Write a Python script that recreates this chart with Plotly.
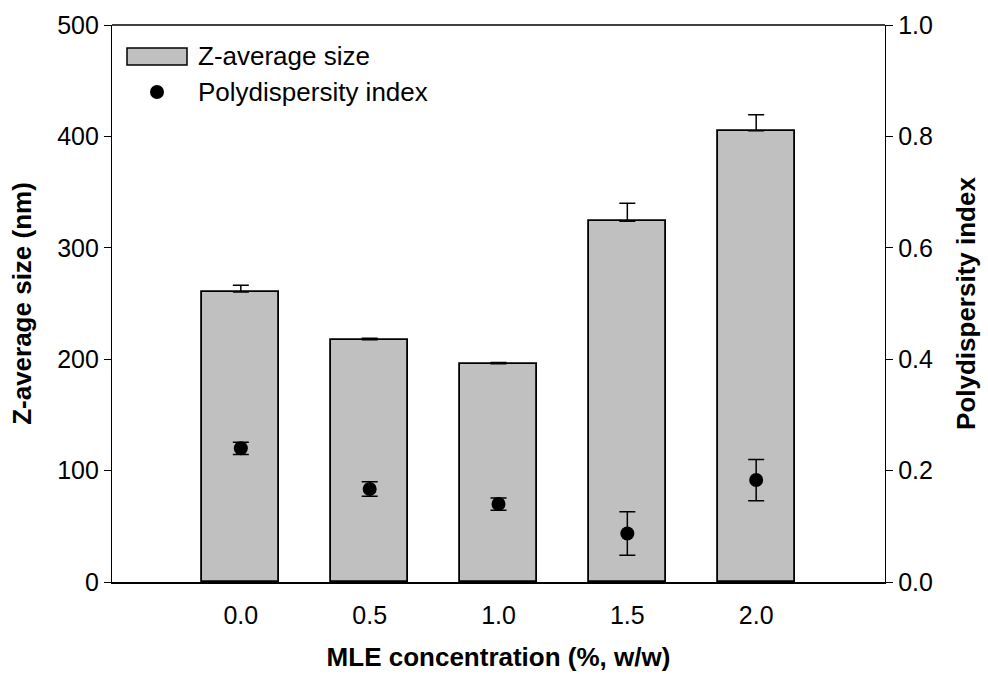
import plotly.graph_objects as go

# ---- data ----
concentration = [0.0, 0.5, 1.0, 1.5, 2.0]
tick_labels = ["0.0", "0.5", "1.0", "1.5", "2.0"]
z_average = [260.3, 217.5, 196.0, 323.8, 405.1]
z_average_err = [6.0, 1.3, 1.0, 16.2, 14.4]
pdi = [0.240, 0.167, 0.140, 0.087, 0.183]
pdi_err = [0.011, 0.013, 0.011, 0.039, 0.037]
left_ticks = [0, 100, 200, 300, 400, 500]
right_ticks = [0.0, 0.2, 0.4, 0.6, 0.8, 1.0]

FONT = "Liberation Sans, Arial, Helvetica, sans-serif"
W, H = 988, 674
ML, MR, MT, MB = 112, 103, 25, 92
PW, PH = W - ML - MR, H - MT - MB


def px(x):
    return (x - ML) / PW


def py(y):
    return (H - MB - y) / PH


fig = go.Figure()

fig.add_trace(go.Bar(
    x=concentration, y=z_average, width=0.3,
    marker=dict(color="#c0c0c0", line=dict(color="black", width=1.8)),
    error_y=dict(type="data", symmetric=False, array=z_average_err,
                 arrayminus=[0] * len(z_average_err),
                 color="black", thickness=1.5, width=8),
    name="Z-average size", showlegend=False, yaxis="y",
))

fig.add_trace(go.Scatter(
    x=concentration, y=pdi, mode="markers",
    marker=dict(color="black", size=14),
    error_y=dict(type="data", array=pdi_err, color="black", thickness=1.5, width=8),
    name="Polydispersity index", showlegend=False, yaxis="y2",
))

# manual legend (swatches + text)
shapes = [
    dict(type="rect", xref="paper", yref="paper",
         x0=px(127), x1=px(187), y0=py(65), y1=py(48),
         fillcolor="#c0c0c0", line=dict(color="black", width=1.5)),
    dict(type="circle", xref="paper", yref="paper",
         x0=px(150), x1=px(164), y0=py(99), y1=py(85),
         fillcolor="black", line=dict(color="black", width=0)),
    # top frame line
    dict(type="line", xref="paper", yref="paper", x0=0, x1=1, y0=1, y1=1,
         line=dict(color="black", width=1.3)),
]
annotations = [
    dict(xref="paper", yref="paper", x=px(196), y=py(56.5), xanchor="left", yanchor="middle",
         text="Z-average size", showarrow=False, font=dict(family=FONT, size=26, color="black")),
    dict(xref="paper", yref="paper", x=px(196), y=py(92), xanchor="left", yanchor="middle",
         text="Polydispersity index", showarrow=False, font=dict(family=FONT, size=26, color="black")),
]

fig.update_layout(
    width=W, height=H,
    margin=dict(l=ML, r=MR, t=MT, b=MB, pad=0),
    paper_bgcolor="white", plot_bgcolor="white",
    font=dict(family=FONT, size=25, color="black"),
    bargap=0,
    shapes=shapes, annotations=annotations,
    xaxis=dict(
        range=[-0.5, 2.5], tickvals=concentration, ticktext=tick_labels,
        showgrid=False, zeroline=False, showline=True, linecolor="black", linewidth=2.2,
        ticks="", ticklabelstandoff=10, automargin=False,
        title=dict(text="<b>MLE concentration (%, w/w)</b>", standoff=20,
                   font=dict(family=FONT, size=26)),
    ),
    yaxis=dict(
        range=[0, 500], tickvals=left_ticks, automargin=False,
        showgrid=False, zeroline=False, showline=True, linecolor="black", linewidth=1.3,
        ticks="outside", ticklen=7, tickwidth=1.3, tickcolor="black",
        title=dict(text="<b>Z-average size (nm)</b>", standoff=18,
                   font=dict(family=FONT, size=26)),
    ),
    yaxis2=dict(
        range=[0, 1.0], tickvals=right_ticks, tickformat=".1f", automargin=False,
        overlaying="y", side="right",
        showgrid=False, zeroline=False, showline=True, linecolor="black", linewidth=1.3,
        ticks="outside", ticklen=7, tickwidth=1.3, tickcolor="black",
        title=dict(text="<b>Polydispersity index</b>", standoff=24,
                   font=dict(family=FONT, size=26)),
    ),
)

fig.write_html("out.html")
